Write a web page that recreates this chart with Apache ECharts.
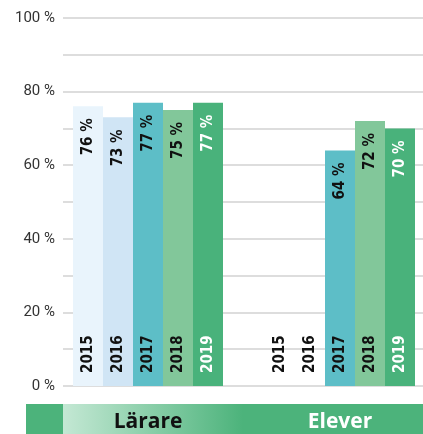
<!DOCTYPE html>
<html>
<head>
<meta charset="utf-8">
<script src="https://cdn.jsdelivr.net/npm/echarts@6/dist/echarts.min.js"></script>
<style>
  html, body { margin: 0; padding: 0; background: #fff; }
  #wrap { position: relative; width: 423px; height: 434px; }
  #band { position: absolute; left: 26px; top: 404px; width: 397px; height: 30px; background: #4cb37b; }
  #bandFade { position: absolute; left: 37px; top: 0; width: 180px; height: 30px;
              background: linear-gradient(to right, #c4e8d4, #4cb37b); }
  #main { position: absolute; left: 0; top: 0; width: 423px; height: 434px; }
</style>
</head>
<body>
<div id="wrap">
  <div id="band"><div id="bandFade"></div></div>
  <div id="main"></div>
</div>
<script>
// grupper och år
var groups = ['Lärare', 'Elever'];
var years = ['2015', '2016', '2017', '2018', '2019'];
// andel per år: [Lärare, Elever]
var v2015 = [76, null];
var v2016 = [73, null];
var v2017 = [77, 64];
var v2018 = [75, 72];
var v2019 = [77, 70];
var yTicks = [0, 20, 40, 60, 80, 100];

var values = [v2015, v2016, v2017, v2018, v2019];
var barColors = ['#e9f4fc', '#d0e5f5', '#5dbec7', '#82c79a', '#49b27b'];
var textColors = ['#111', '#111', '#111', '#111', '#fff'];
var labelFont = '"DejaVu Sans Condensed", "DejaVu Sans", sans-serif';

var chart = echarts.init(document.getElementById('main'));

var series = [];
years.forEach(function (yr, i) {
    series.push({
        type: 'bar',
        name: yr,
        xAxisIndex: 1,
        yAxisIndex: 1,
        barWidth: 30,
        barGap: '0%',
        data: values[i],
        itemStyle: { color: barColors[i] },
        label: {
            show: true,
            position: 'insideTop',
            distance: 12,
            rotate: 90,
            align: 'right',
            verticalAlign: 'middle',
            formatter: function (p) { return p.value + ' %'; },
            color: textColors[i],
            fontFamily: labelFont,
            fontWeight: 'bold',
            fontSize: 15
        }
    });
});

// årtal längst ner: egna axlar under varje grupp
function yearAxis(gridIndex) {
    return {
        type: 'category',
        gridIndex: gridIndex,
        data: years,
        z: 10,
        axisLine: { show: false },
        axisTick: { show: false },
        axisLabel: {
            inside: true,
            interval: 0,
            rotate: 90,
            margin: 13,
            formatter: function (v, idx) { return (idx === 4 ? '{w|' : '{k|') + v + '}'; },
            rich: {
                k: { color: '#111', fontFamily: labelFont, fontWeight: 'bold', fontSize: 15 },
                w: { color: '#fff', fontFamily: labelFont, fontWeight: 'bold', fontSize: 15 }
            }
        }
    };
}

var option = {
    animation: false,
    grid: [
        { left: 63, right: 0, top: 18, bottom: 48 },
        { left: 148, right: 83, top: 18, bottom: 48 },
        { left: 73, right: 200, top: 18, bottom: 48 },
        { left: 265, right: 8, top: 18, bottom: 48 }
    ],
    xAxis: [
        { type: 'value', gridIndex: 0, show: false, min: 0, max: 1 },
        {
            type: 'category',
            gridIndex: 1,
            data: groups,
            boundaryGap: false,
            axisLine: { show: false },
            axisTick: { show: false },
            axisLabel: {
                margin: 26,
                formatter: function (v, idx) { return (idx === 0 ? '{k|' : '{w|') + v + '}'; },
                rich: {
                    k: { color: '#111', fontFamily: '"Open Sans", sans-serif', fontWeight: 'bold', fontSize: 21 },
                    w: { color: '#fff', fontFamily: '"Open Sans", sans-serif', fontWeight: 'bold', fontSize: 21 }
                }
            }
        },
        yearAxis(2),
        yearAxis(3)
    ],
    yAxis: [
        {
            type: 'value',
            gridIndex: 0,
            min: 0,
            max: 100,
            interval: 10,
            axisLine: { show: false },
            axisTick: { show: false },
            splitLine: { show: true, lineStyle: { color: '#d2d2d2', width: 1.5 } },
            axisLabel: {
                margin: 8,
                color: '#333',
                fontFamily: 'Roboto, sans-serif',
                fontSize: 15,
                formatter: function (v) { return yTicks.indexOf(v) >= 0 ? v + ' %' : ''; }
            }
        },
        { type: 'value', gridIndex: 1, min: 0, max: 100, show: false },
        { type: 'value', gridIndex: 2, min: 0, max: 100, show: false },
        { type: 'value', gridIndex: 3, min: 0, max: 100, show: false }
    ],
    series: series
};

chart.setOption(option);
</script>
</body>
</html>
